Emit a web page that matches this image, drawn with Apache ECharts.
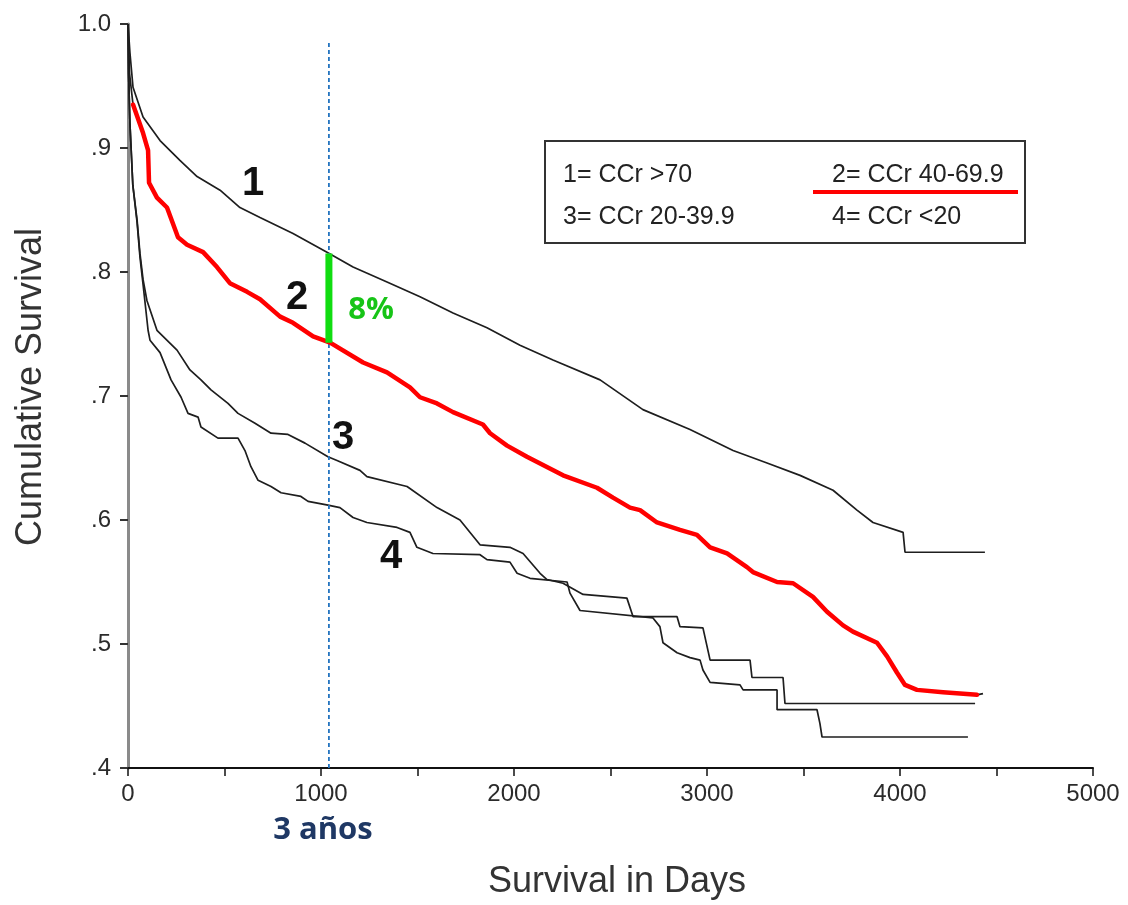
<!DOCTYPE html>
<html><head><meta charset="utf-8">
<script src="https://cdn.jsdelivr.net/npm/echarts@6.0.0/dist/echarts.min.js"></script>
<style>html,body{margin:0;padding:0;background:#fff}#c{width:1128px;height:905px}</style>
</head><body><div id="c"></div>
<script>
// ---- data ----
const yTickLabels = ['.4', '.5', '.6', '.7', '.8', '.9', '1.0'];
const xTickLabels = ['0', '1000', '2000', '3000', '4000', '5000'];

const curve1Days = [0,10,26,78,166,269,358,477,580,684,855,1031,1166,1342,1513,1684,1860,2031,2202,2446,2668,2912,3135,3311,3482,3653,3777,3860,4016,4026,4440];
const curve1Surv = [1.0,0.977,0.949,0.925,0.906,0.890,0.877,0.866,0.852,0.844,0.831,0.816,0.804,0.792,0.780,0.767,0.755,0.741,0.729,0.713,0.689,0.673,0.656,0.646,0.636,0.624,0.608,0.598,0.590,0.574,0.574];

const curve2Days = [0,8,26,78,104,109,150,202,259,306,389,461,528,617,684,788,855,959,1047,1218,1342,1461,1513,1601,1684,1839,1876,1964,2067,2254,2430,2513,2601,2653,2741,2860,2948,3016,3104,3207,3238,3363,3446,3549,3622,3705,3756,3881,3933,3984,4026,4088,4223,4399,4430];
const curve2Surv = [1.0,0.96,0.935,0.912,0.898,0.872,0.860,0.852,0.828,0.822,0.816,0.804,0.791,0.784,0.778,0.764,0.759,0.748,0.743,0.727,0.719,0.707,0.699,0.694,0.687,0.677,0.670,0.660,0.651,0.636,0.626,0.618,0.610,0.608,0.598,0.592,0.588,0.578,0.573,0.562,0.558,0.550,0.549,0.538,0.526,0.515,0.510,0.501,0.490,0.477,0.467,0.463,0.461,0.459,0.460];

const curve3Days = [0,3,10,25,47,62,78,98,150,254,321,378,430,518,570,658,741,829,917,1036,1083,1202,1238,1446,1601,1720,1824,1979,2047,2135,2171,2254,2358,2585,2617,2845,2860,2979,3016,3223,3233,3394,3404,4389];
const curve3Surv = [1.0,0.96,0.92,0.87,0.842,0.815,0.794,0.777,0.753,0.737,0.721,0.713,0.705,0.694,0.686,0.678,0.670,0.669,0.662,0.651,0.648,0.640,0.635,0.627,0.610,0.600,0.580,0.578,0.573,0.557,0.552,0.549,0.540,0.537,0.522,0.522,0.514,0.513,0.487,0.487,0.473,0.473,0.452,0.452];

const curve4Days = [0,3,10,25,47,62,78,104,114,166,223,275,311,363,378,466,570,606,637,674,741,793,896,933,1036,1098,1166,1238,1394,1461,1497,1580,1824,1860,1979,2016,2083,2275,2290,2342,2720,2756,2772,2845,2912,2964,2979,3016,3171,3187,3363,3363,3570,3585,3596,4352];
const curve4Surv = [1.0,0.96,0.92,0.87,0.84,0.812,0.79,0.753,0.745,0.735,0.713,0.699,0.686,0.683,0.675,0.666,0.666,0.656,0.643,0.632,0.627,0.622,0.619,0.615,0.612,0.610,0.602,0.598,0.594,0.590,0.578,0.573,0.572,0.568,0.566,0.557,0.553,0.550,0.541,0.527,0.521,0.514,0.501,0.493,0.489,0.487,0.479,0.469,0.467,0.463,0.463,0.447,0.447,0.436,0.425,0.425];

// highlight (red trace of curve 2, hand-drawn overlay)
const redStartIndex = 2;
const redEndIndex = curve2Days.length - 1;

// 3-year reference line and gap bar
const refDay = 1041;
const refLineSurv = [0.4, 0.987];
const gapSurv = [0.743, 0.815];

// text annotations in data coordinates
const curveLabelDays = [648, 876, 1114, 1363];
const curveLabelSurv = [0.871, 0.779, 0.666, 0.570];
const curveLabelText = ['1', '2', '3', '4'];
const gapLabel = [1259, 0.769, '8%'];
const yearsLabel = [1010, 0.350, '3 años'];

const legendItems = ['1= CCr >70', '2= CCr 40-69.9', '3= CCr 20-39.9', '4= CCr <20'];

// ---- chart ----
function pairs(d, s) { return d.map((v, i) => [v, s[i]]); }
const FONT = '"Liberation Sans", Arial, sans-serif';
const FONT2 = '"Open Sans", sans-serif';
const chart = echarts.init(document.getElementById('c'), null, { renderer: 'canvas' });

const kmStyle = { color: '#1e1e1e', width: 1.7 };
function kmSeries(d, s) {
  return { type: 'line', data: pairs(d, s), symbol: 'none', showSymbol: false, lineStyle: kmStyle, z: 2, silent: true };
}

const baseGraphic = [
  { type: 'text', x: 617, y: 882, style: { text: 'Survival in Days', font: '36px ' + FONT, fill: '#333', textAlign: 'center', textVerticalAlign: 'middle' } },
  { type: 'text', x: 31, y: 387, rotation: Math.PI / 2, style: { text: 'Cumulative Survival', font: '36px ' + FONT, fill: '#333', textAlign: 'center', textVerticalAlign: 'middle' } },
  { type: 'rect', shape: { x: 545, y: 141, width: 480, height: 102 }, style: { fill: '#fff', stroke: '#333', lineWidth: 2 }, z: 10 },
  { type: 'text', x: 563, y: 175, z: 11, style: { text: legendItems[0], font: '25px ' + FONT, fill: '#222', textVerticalAlign: 'middle' } },
  { type: 'text', x: 832, y: 175, z: 11, style: { text: legendItems[1], font: '25px ' + FONT, fill: '#222', textVerticalAlign: 'middle' } },
  { type: 'text', x: 563, y: 217, z: 11, style: { text: legendItems[2], font: '25px ' + FONT, fill: '#222', textVerticalAlign: 'middle' } },
  { type: 'text', x: 832, y: 217, z: 11, style: { text: legendItems[3], font: '25px ' + FONT, fill: '#222', textVerticalAlign: 'middle' } },
  { type: 'line', shape: { x1: 813, y1: 192, x2: 1018, y2: 192 }, style: { stroke: '#ff0000', lineWidth: 4 }, z: 11 }
];

chart.setOption({
  animation: false,
  backgroundColor: '#ffffff',
  grid: { left: 128, right: 35, top: 24, bottom: 137, containLabel: false },
  xAxis: {
    type: 'value', min: 0, max: 5000, interval: 500,
    axisLine: { show: true, lineStyle: { color: '#111', width: 2 } },
    axisTick: { show: true, length: 8, lineStyle: { color: '#111', width: 1.5 } },
    splitLine: { show: false },
    axisLabel: {
      margin: 14, fontSize: 24, color: '#2b2b2b', fontFamily: FONT,
      formatter: v => (v % 1000 === 0 ? xTickLabels[v / 1000] : '')
    }
  },
  yAxis: {
    type: 'value', min: 0.4, max: 1.0, interval: 0.1,
    axisLine: { show: true, lineStyle: { color: '#8a8a8a', width: 3 } },
    axisTick: { show: true, length: 8, lineStyle: { color: '#333', width: 2 } },
    splitLine: { show: false },
    axisLabel: {
      margin: 17, fontSize: 24, color: '#2b2b2b', fontFamily: FONT,
      formatter: v => yTickLabels[Math.round((v - 0.4) * 10)]
    }
  },
  series: [
    kmSeries(curve1Days, curve1Surv),
    kmSeries(curve2Days, curve2Surv),
    kmSeries(curve3Days, curve3Surv),
    kmSeries(curve4Days, curve4Surv),
    {
      type: 'line', symbol: 'none', z: 5, silent: true,
      data: pairs(curve2Days.slice(redStartIndex, redEndIndex), curve2Surv.slice(redStartIndex, redEndIndex)),
      lineStyle: { color: '#ff0000', width: 4.5, join: 'round', cap: 'round' }
    },
    {
      type: 'line', symbol: 'none', z: 4, silent: true,
      data: [[refDay, refLineSurv[0]], [refDay, refLineSurv[1]]],
      lineStyle: { color: '#2474c0', width: 1.8, type: [4, 3] }
    },
    {
      type: 'line', symbol: 'none', z: 6, silent: true,
      data: [[refDay, gapSurv[0]], [refDay, gapSurv[1]]],
      lineStyle: { color: '#11dd11', width: 7, cap: 'butt' }
    }
  ],
  graphic: baseGraphic
});

// annotation texts placed through the chart's own coordinate conversion
function toPx(d, s) { return chart.convertToPixel({ gridIndex: 0 }, [d, s]); }
const annot = [];
curveLabelText.forEach((t, i) => {
  const p = toPx(curveLabelDays[i], curveLabelSurv[i]);
  annot.push({ type: 'text', x: p[0], y: p[1], z: 12, style: { text: t, font: 'bold 40px ' + FONT, fill: '#111', textAlign: 'center', textVerticalAlign: 'middle' } });
});
{
  const p = toPx(gapLabel[0], gapLabel[1]);
  annot.push({ type: 'text', x: p[0], y: p[1], z: 12, style: { text: gapLabel[2], font: 'bold 31px ' + FONT2, fill: '#17c417', textAlign: 'center', textVerticalAlign: 'middle' } });
  const q = toPx(yearsLabel[0], yearsLabel[1]);
  annot.push({ type: 'text', x: q[0], y: q[1], z: 12, style: { text: yearsLabel[2], font: 'bold 31px ' + FONT2, fill: '#1f3864', textAlign: 'center', textVerticalAlign: 'middle' } });
}
chart.setOption({ graphic: baseGraphic.concat(annot) });
</script>
</body></html>
